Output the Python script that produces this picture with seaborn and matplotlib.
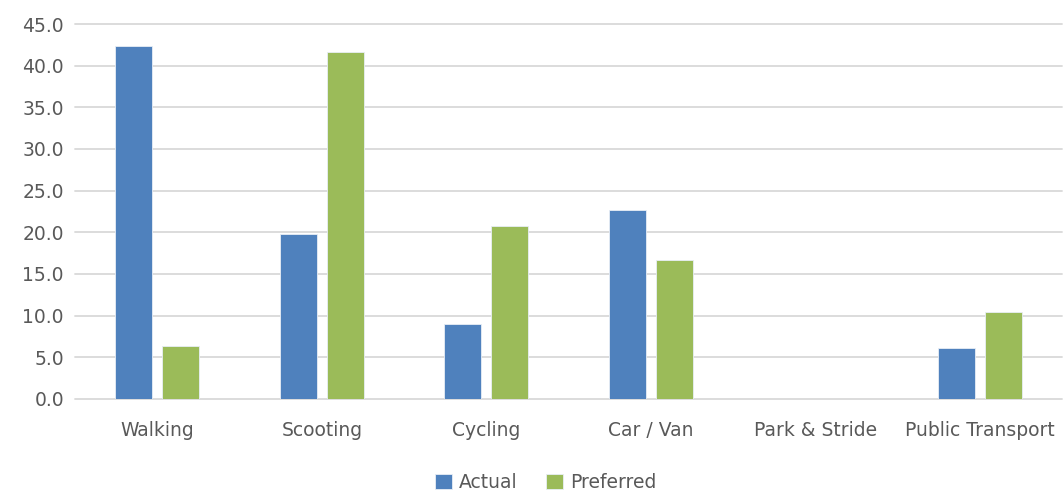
import pandas as pd
import matplotlib.pyplot as plt
import seaborn as sns

# ---- data ----
modes = ['Walking', 'Scooting', 'Cycling', 'Car / Van', 'Park & Stride', 'Public Transport']
actual = [42.4, 19.8, 9.0, 22.7, 0.0, 6.1]
preferred = [6.3, 41.7, 20.8, 16.7, 0.0, 10.4]
series_names = ['Actual', 'Preferred']
y_ticks = [0, 5, 10, 15, 20, 25, 30, 35, 40, 45]

df = pd.DataFrame({
    'mode': modes * 2,
    'value': actual + preferred,
    'series': [series_names[0]] * len(modes) + [series_names[1]] * len(modes),
})

sns.set_theme(style='white')
plt.rcParams['font.family'] = ['DejaVu Sans']

fig = plt.figure(figsize=(10.64, 4.95), dpi=100)
ax = fig.add_axes([0.0705, 0.194, 0.928, 0.7575])

sns.barplot(data=df, x='mode', y='value', hue='series', order=modes,
            palette=['#4F81BD', '#9BBB59'], saturation=1, width=0.571, gap=0.213,
            edgecolor='#E8EEF6', linewidth=0.6, ax=ax, legend=True)

ax.set_ylim(0, 45)
ax.set_xlim(-0.5, len(modes) - 0.5)
ax.set_yticks(y_ticks)
ax.set_yticklabels([f'{t:.1f}' for t in y_ticks])
ax.yaxis.grid(True, color='#D9D9D9', linewidth=1.3)
for gl in ax.get_ygridlines():
    gl.set_clip_on(False)
ax.set_axisbelow(True)
for s in ax.spines.values():
    s.set_visible(False)
ax.set_xlabel('')
ax.set_ylabel('')
ax.tick_params(axis='x', length=0, pad=16, labelsize=13.5, labelcolor='#595959')
ax.tick_params(axis='y', length=0, pad=8, labelsize=13.5, labelcolor='#595959')

handles, labels = ax.get_legend_handles_labels()
ax.legend_.remove()
fig.legend(handles, labels, loc='center', bbox_to_anchor=(0.513, 0.025),
           ncol=2, frameon=False, fontsize=13.5, handlelength=0.9, handleheight=0.9,
           handletextpad=0.4, columnspacing=1.5, labelcolor='#595959')

fig.savefig('out.png', dpi=100)
